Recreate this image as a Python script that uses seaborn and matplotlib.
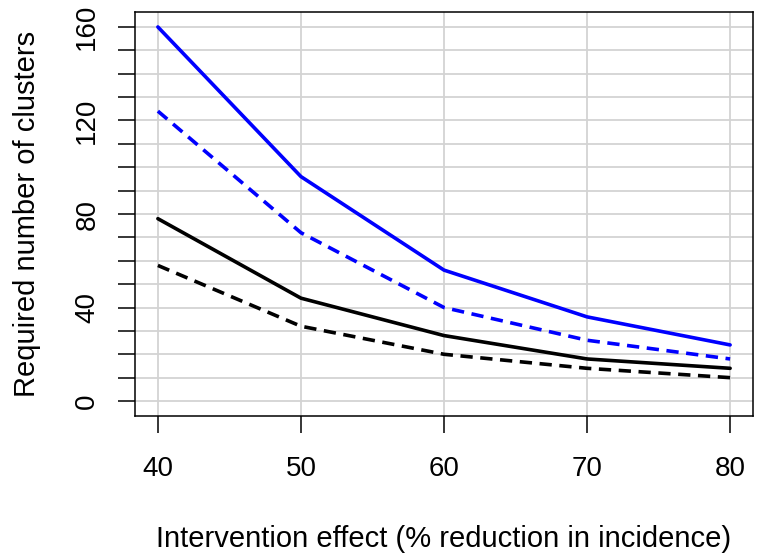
import pandas as pd
import matplotlib
matplotlib.use("Agg")
import matplotlib.pyplot as plt
import seaborn as sns

# values
effect = [40, 50, 60, 70, 80]
blue_solid = [160, 96, 56, 36, 24]
blue_dashed = [124, 72, 40, 26, 18]
black_solid = [78, 44, 28, 18, 14]
black_dashed = [58, 32, 20, 14, 10]

sns.set_style("white")
plt.rcParams['font.family'] = ['Liberation Sans', 'DejaVu Sans']
plt.rcParams['text.color'] = 'black'
plt.rcParams['axes.labelcolor'] = 'black'
plt.rcParams['xtick.color'] = 'black'
plt.rcParams['ytick.color'] = 'black'

fig = plt.figure(figsize=(7.61, 5.58), dpi=100)
ax = fig.add_axes([135 / 761, 1 - 416 / 558, (753 - 135) / 761, (416 - 12) / 558])

# light grey grid, every 10 on y and at each x tick
for y in range(0, 170, 10):
    ax.axhline(y, color="#d3d3d3", lw=1.3, zorder=0)
for x in effect:
    ax.axvline(x, color="#d3d3d3", lw=1.3, zorder=0)

series = [
    (blue_solid, "blue", "-"),
    (blue_dashed, "blue", "--"),
    (black_solid, "black", "-"),
    (black_dashed, "black", "--"),
]
for vals, col, ls in series:
    df = pd.DataFrame({"x": effect, "y": vals})
    sns.lineplot(data=df, x="x", y="y", ax=ax, color=col, lw=2.6)
    l = ax.lines[-1]
    l.set_linestyle(ls)
    if ls == "--":
        l.set_dashes((3.4, 2.1))
    l.set_zorder(3)

ax.set_xlim(38.4, 81.6)
ax.set_ylim(-6.4, 166.4)
ax.set_xticks(effect)
ax.set_yticks(range(0, 170, 10))
ax.set_yticklabels([str(v) if v % 40 == 0 else "" for v in range(0, 170, 10)],
                   rotation=90, va="center")
ax.tick_params(axis="both", direction="out", length=12, width=1.1,
               labelsize=20, color="black", labelcolor="black", left=True, bottom=True)
ax.tick_params(axis="y", pad=13)
ax.tick_params(axis="x", pad=17)
for s in ax.spines.values():
    s.set_visible(True)
    s.set_color("black")
    s.set_linewidth(1.1)

ax.set_xlabel("Intervention effect (% reduction in incidence)", fontsize=21, labelpad=31)
ax.set_ylabel("Required number of clusters", fontsize=21, labelpad=24)

fig.savefig("out.png", dpi=100)
